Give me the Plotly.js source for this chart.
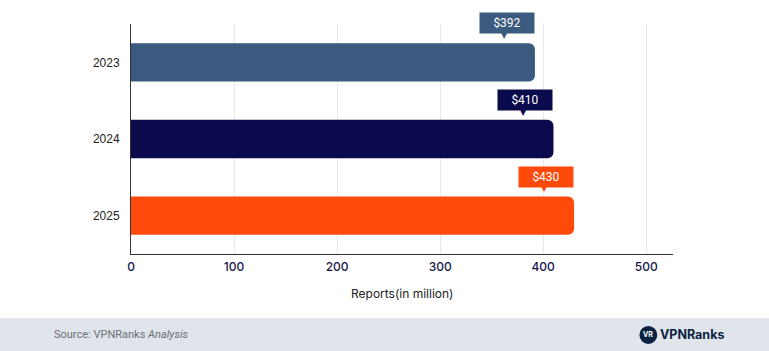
<!DOCTYPE html>
<html><head><meta charset="utf-8">
<script src="https://cdn.plot.ly/plotly-3.0.1.min.js"></script>
<style>html,body{margin:0;padding:0;background:#fff;}#chart{width:769px;height:351px;}</style>
</head><body><div id="chart"></div>
<script>
const years = ['2023', '2024', '2025'];
const values = [392, 410, 430];
const labels = ['$392', '$410', '$430'];
const colors = ['#3b5a80', '#0a0a4d', '#ff4a0b'];
const xTicks = [0, 100, 200, 300, 400, 500];

const pos = years.map((_, i) => i);

const annotations = [];
years.forEach((y, i) => {
  annotations.push({x: values[i], y: pos[i], xref: 'x', yref: 'y', text: labels[i], showarrow: false,
    xshift: -28, yshift: 39, bgcolor: colors[i], font: {family: 'Roboto', size: 12, color: '#fff'},
    width: 46, height: 12, borderpad: 4});
  annotations.push({x: values[i], y: pos[i], xref: 'x', yref: 'y', text: '▼', showarrow: false,
    xshift: -30, yshift: 27, font: {family: 'DejaVu Sans', size: 8, color: colors[i]}});
});
annotations.push({x: -0.145, y: -0.352, xref: 'paper', yref: 'paper', xanchor: 'left', yanchor: 'middle',
  text: 'Source: VPNRanks <i>Analysis</i>', showarrow: false, font: {family: 'Roboto', size: 11, color: '#6b6f76'}});
annotations.push({x: 0.972, y: -0.352, xref: 'paper', yref: 'paper', xanchor: 'left', yanchor: 'middle',
  text: '<b>VPNRanks</b>', showarrow: false, font: {family: 'Inter', size: 12.5, color: '#0c2340'}});
annotations.push({x: 0.954, y: -0.352, xref: 'paper', yref: 'paper', xanchor: 'center', yanchor: 'middle',
  text: '<b>VR</b>', showarrow: false, font: {family: 'Inter', size: 7, color: '#fff'}});
annotations.push({x: 0.5, y: -0.17, xref: 'paper', yref: 'paper', xanchor: 'center', yanchor: 'middle',
  text: 'Reports(in million)', showarrow: false, font: {family: 'Inter', size: 12, color: '#222'}});

const shapes = [
  {type: 'rect', xref: 'paper', yref: 'paper', x0: -0.26, x1: 1.2, y0: -0.5, y1: -0.279,
   fillcolor: '#dfe5eb', line: {width: 0}, layer: 'below'},
  {type: 'circle', xref: 'paper', yref: 'paper', x0: 0.938, x1: 0.971, y0: -0.391, y1: -0.313,
   fillcolor: '#0c2340', line: {width: 0}}
];

Plotly.newPlot('chart', [{
  type: 'bar', orientation: 'h', y: pos, x: values,
  marker: {color: colors}, width: 0.5, hoverinfo: 'none'
}], {
  width: 769, height: 351,
  margin: {l: 131, r: 96, t: 24, b: 97},
  paper_bgcolor: '#fff', plot_bgcolor: '#fff',
  barcornerradius: 6,
  showlegend: false,
  xaxis: {range: [0, 526], tickvals: xTicks, showgrid: true, gridcolor: '#e9e9e9', gridwidth: 1,
    zeroline: false, showline: true, linecolor: '#333', linewidth: 1, ticks: '',
    tickfont: {family: 'Inter', size: 12, weight: 500, color: '#16164a'}, ticklabelstandoff: 2},
  yaxis: {range: [2.5, -0.5], tickvals: pos, ticktext: years, showgrid: false, zeroline: false,
    showline: true, linecolor: '#333', linewidth: 1, ticks: '',
    tickfont: {family: 'Liberation Sans', size: 12, color: '#222'}, ticklabelstandoff: 8},
  annotations: annotations, shapes: shapes
}, {displayModeBar: false, staticPlot: true});
</script></body></html>
